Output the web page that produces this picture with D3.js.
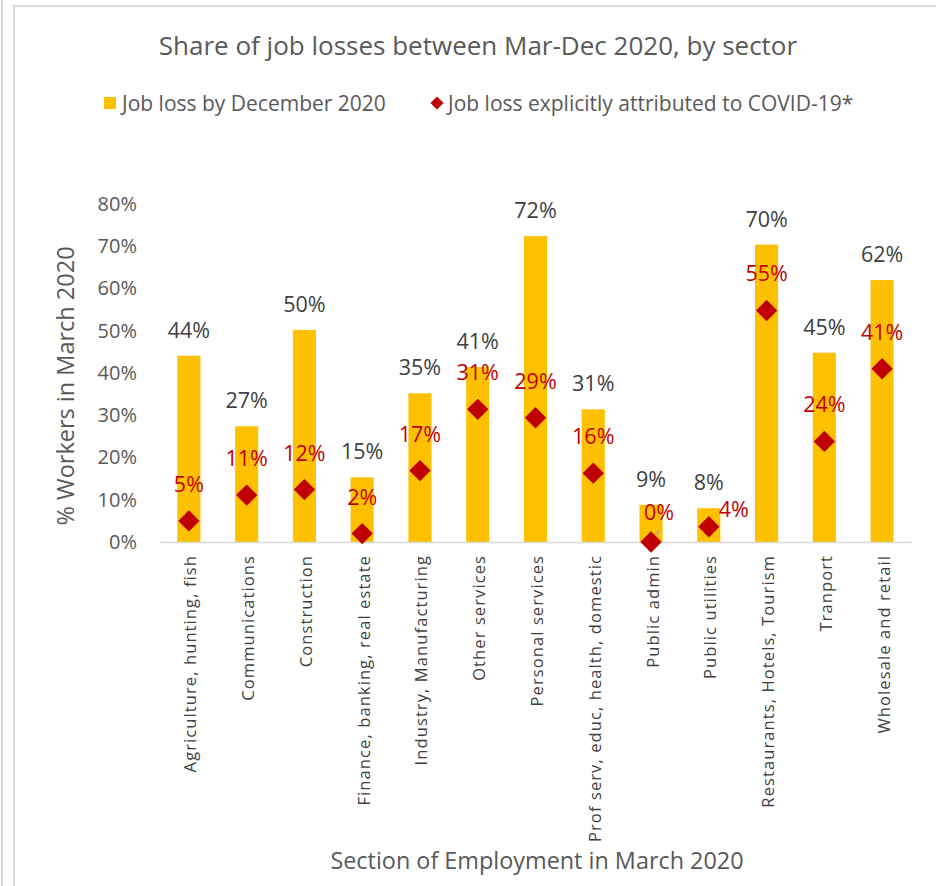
<!DOCTYPE html>
<html>
<head>
<meta charset="utf-8">
<script src="https://cdn.jsdelivr.net/npm/d3@7"></script>
<style>
  html, body { margin: 0; padding: 0; background: #fff; }
  svg { display: block; font-family: "Open Sans", "Noto Sans", sans-serif; }
</style>
</head>
<body>
<svg id="chart" width="936" height="886"></svg>
<script>
// Sectors of employment (March 2020)
const sectors = [
  "Agriculture, hunting, fish",
  "Communications",
  "Construction",
  "Finance, banking, real estate",
  "Industry, Manufacturing",
  "Other services",
  "Personal services",
  "Prof serv, educ, health, domestic",
  "Public admin",
  "Public utilities",
  "Restaurants, Hotels, Tourism",
  "Tranport",
  "Wholesale and retail"
];

// Share of workers who lost their job by December 2020 (%)
const jobLossDec = [44.1, 27.4, 50.2, 15.3, 35.2, 41.4, 72.4, 31.4, 8.8, 8.0, 70.4, 44.8, 62.0];

// Share of job losses explicitly attributed to COVID-19 (%)
const jobLossCovid = [5.0, 11.1, 12.4, 2.0, 16.9, 31.4, 29.4, 16.3, 0.0, 3.6, 54.8, 23.8, 41.0];

// Y axis ticks (%)
const yTicks = [0, 10, 20, 30, 40, 50, 60, 70, 80];

const seriesNames = ["Job loss by December 2020", "Job loss explicitly attributed to COVID-19*"];

const W = 936, H = 886;
const svg = d3.select("#chart");

const gold = "#FFC000", red = "#C00000";
const darkText = "#404040", greyText = "#595959";

// frame lines
svg.append("line").attr("x1", 2).attr("x2", 2).attr("y1", 0).attr("y2", H)
  .attr("stroke", "#c8c8c8").attr("stroke-width", 1.5);
svg.append("path").attr("d", `M14,${H} L14,6 L${W},6`)
  .attr("fill", "none").attr("stroke", "#d0d0d0").attr("stroke-width", 1.5);

// scales
const x = d3.scaleBand().domain(sectors).range([160, 911]).paddingInner(0.6).paddingOuter(0.3);
const y = d3.scaleLinear().domain([0, 80]).range([542, 204]);
const cx = d => x(d) + x.bandwidth() / 2;

// title
svg.append("text").attr("x", 478).attr("y", 55).attr("text-anchor", "middle")
  .attr("fill", greyText).attr("font-size", 26)
  .text("Share of job losses between Mar-Dec 2020, by sector");

// legend
const leg = svg.append("g");
leg.append("rect").attr("x", 104).attr("y", 97).attr("width", 12).attr("height", 12).attr("fill", gold);
leg.append("text").attr("x", 122).attr("y", 111).attr("fill", greyText).attr("font-size", 21).text(seriesNames[0]);
leg.append("path").attr("d", d3.symbol(d3.symbolDiamond2, 110)()).attr("transform", "translate(437,103)")
  .attr("fill", red);
leg.append("text").attr("x", 448).attr("y", 111).attr("fill", greyText).attr("font-size", 21).text(seriesNames[1]);

// y axis (labels only)
const yAxis = d3.axisLeft(y).tickValues(yTicks).tickFormat(d => d + "%").tickSize(0).tickPadding(0);
const gy = svg.append("g").attr("transform", "translate(137,0)").call(yAxis);
gy.select(".domain").remove();
gy.selectAll("text").attr("fill", greyText).attr("font-size", 20).attr("font-family", "Open Sans, sans-serif");

// y axis title
svg.append("text").attr("transform", "translate(74,386) rotate(-90)").attr("text-anchor", "middle")
  .attr("fill", greyText).attr("font-size", 23.5).text("% Workers in March 2020");

// bars
svg.append("g").selectAll("rect").data(sectors).join("rect")
  .attr("x", d => x(d)).attr("width", x.bandwidth())
  .attr("y", (d, i) => y(jobLossDec[i])).attr("height", (d, i) => y(0) - y(jobLossDec[i]))
  .attr("fill", gold);

// x axis
const xAxis = d3.axisBottom(x).tickSize(0).tickPadding(0);
const gx = svg.append("g").attr("transform", "translate(0,542)").call(xAxis);
gx.select(".domain").attr("stroke", "#d9d9d9").attr("stroke-width", 1.5);
gx.selectAll("text")
  .attr("fill", darkText).attr("font-size", 16.5).attr("font-family", "Open Sans, sans-serif")
  .attr("letter-spacing", 1.1)
  .attr("text-anchor", "end").attr("dy", null)
  .attr("dominant-baseline", "central")
  .attr("transform", "translate(1,13) rotate(-90)")
  .attr("x", 0).attr("y", 0);

// x axis title
svg.append("text").attr("x", 537).attr("y", 869).attr("text-anchor", "middle")
  .attr("fill", greyText).attr("font-size", 23.4).text("Section of Employment in March 2020");

// bar value labels
const fmt = v => Math.round(v) + "%";
svg.append("g").selectAll("text").data(sectors).join("text")
  .attr("x", d => cx(d))
  .attr("y", (d, i) => y(jobLossDec[i]) - 18)
  .attr("text-anchor", "middle").attr("fill", darkText).attr("font-size", 21.5)
  .text((d, i) => fmt(jobLossDec[i]));

// leader line for the callout label on Public admin
svg.append("line")
  .attr("x1", cx("Public admin") + 1).attr("y1", y(jobLossCovid[8]))
  .attr("x2", cx("Public admin") + 8).attr("y2", y(jobLossCovid[8]) - 12)
  .attr("stroke", "#a6a6a6").attr("stroke-width", 1.2);

// diamonds
svg.append("g").selectAll("path").data(sectors).join("path")
  .attr("d", d3.symbol(d3.symbolDiamond2, 290)())
  .attr("transform", (d, i) => `translate(${cx(d)},${y(jobLossCovid[i])})`)
  .attr("fill", red);

// diamond value labels: above by default, a few placed aside
const labelShift = {
  "Public admin": [8, -22],
  "Public utilities": [10, -10]
};
svg.append("g").selectAll("text").data(sectors).join("text")
  .attr("x", d => cx(d) + (labelShift[d] ? labelShift[d][0] : 0))
  .attr("y", (d, i) => y(jobLossCovid[i]) + (labelShift[d] ? labelShift[d][1] : -29))
  .attr("text-anchor", d => d === "Public utilities" ? "start" : "middle")
  .attr("fill", red).attr("font-size", 21.5)
  .text((d, i) => fmt(jobLossCovid[i]));
</script>
</body>
</html>
